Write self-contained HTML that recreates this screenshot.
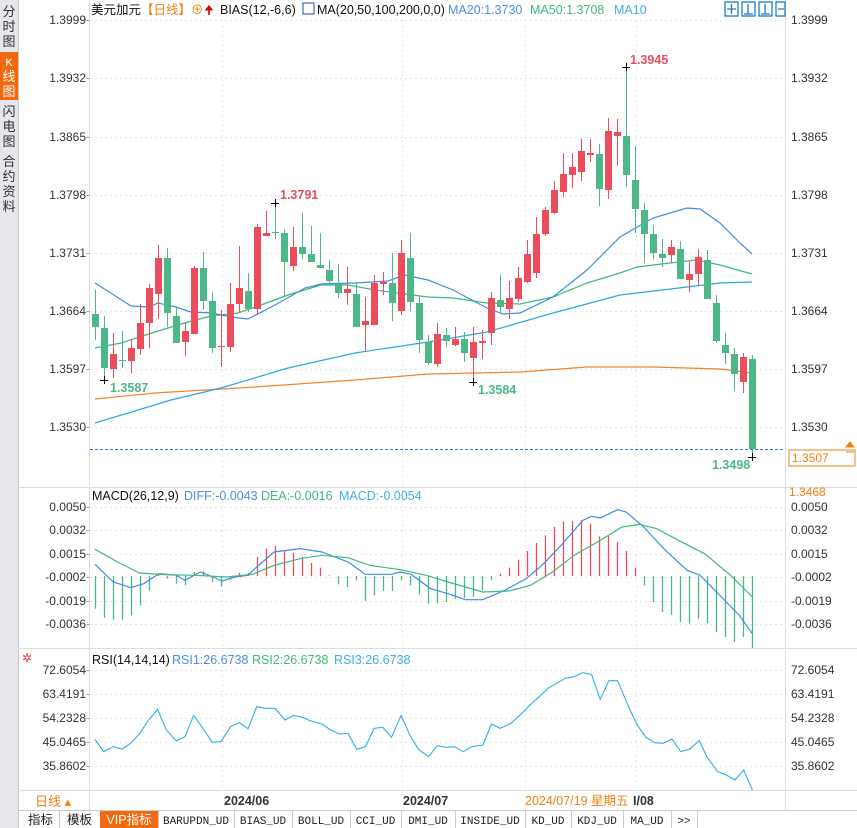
<!DOCTYPE html>
<html><head><meta charset="utf-8">
<style>
body{margin:0;width:857px;height:828px;overflow:hidden;background:#fff;font-family:"Liberation Sans","Noto Sans CJK SC",sans-serif;}
svg{position:absolute;left:0;top:0}
</style></head><body>
<svg id="s" width="857" height="828" xmlns="http://www.w3.org/2000/svg" font-family="Liberation Sans, Noto Sans CJK SC, sans-serif">
<rect x="0" y="0" width="18" height="828" fill="#e6e6ec"/>
<line x1="18.5" y1="0" x2="18.5" y2="828" stroke="#c8c8d0"/>
<rect x="0" y="52" width="18" height="48" fill="#f26a10"/>
<g font-size="13" fill="#333" text-anchor="middle">
<text x="9" y="16">分</text><text x="9" y="31">时</text><text x="9" y="46">图</text>
<text x="9" y="66" fill="#fff" font-size="11">K</text><text x="9" y="81" fill="#fff">线</text><text x="9" y="96" fill="#fff">图</text>
<text x="9" y="116">闪</text><text x="9" y="131">电</text><text x="9" y="146">图</text>
<text x="9" y="166">合</text><text x="9" y="181">约</text><text x="9" y="196">资</text><text x="9" y="211">料</text>
</g>
<g id="grid"></g>
<g id="plot"></g>
<line x1="89.5" y1="0" x2="89.5" y2="810" stroke="#ddd"/>
<line x1="785.5" y1="0" x2="785.5" y2="810" stroke="#ddd"/>
<line x1="18" y1="487.5" x2="857" y2="487.5" stroke="#ddd"/>
<line x1="18" y1="648.5" x2="857" y2="648.5" stroke="#ddd"/>
<line x1="18" y1="790.5" x2="857" y2="790.5" stroke="#ddd"/>
<line x1="18" y1="810.5" x2="857" y2="810.5" stroke="#ccc"/>
<g font-size="12.5">
<text x="91" y="14" fill="#111">美元加元<tspan fill="#f08010">【日线】</tspan><tspan fill="#f08010">⊕</tspan></text>
<text x="204" y="14" fill="#d00" font-size="12">🠉</text>
<text x="220" y="14" fill="#111">BIAS(12,-6,6)</text>
<rect x="303" y="3" width="11" height="11" fill="#fff" stroke="#2a4aa0"/>
<text x="317" y="14" fill="#111">MA(20,50,100,200,0,0)</text>
<text x="448" y="14" fill="#4a90e2">MA20:1.3730</text>
<text x="530" y="14" fill="#3dbb7a">MA50:1.3708</text>
<text x="614" y="14" fill="#42aee8">MA10</text>
</g>
<g fill="none" stroke="#1e7cc8" stroke-width="1.3">
<rect x="725" y="2" width="13" height="14"/><rect x="742" y="2" width="13" height="14"/><rect x="759" y="2" width="13" height="14"/><rect x="776" y="2" width="9" height="14"/>
<path d="M731.5 4v10M727 9h9M748 4v10M744 14h9M765 4v10M761 14h9M778 9h6"/>
</g>
<g font-size="12" fill="#333" id="axes"></g>
<rect x="789" y="450" width="66" height="16" fill="#fff" stroke="#f08010"/>
<text x="792" y="462" font-size="12" fill="#f08010">1.3507</text>
<text x="789" y="496" font-size="12" fill="#f08010">1.3468</text>
<path d="M846 447l4-5 4 5zM846 452h8" fill="#f08010" stroke="#f08010"/>
<g font-size="12.5">
<text x="92" y="500" fill="#111">MACD(26,12,9)</text>
<text x="184" y="500" fill="#4a90e2">DIFF:-0.0043</text>
<text x="261" y="500" fill="#3dbb7a">DEA:-0.0016</text>
<text x="339" y="500" fill="#42aee8">MACD:-0.0054</text>
<text x="92" y="664" fill="#111">RSI(14,14,14)</text>
<text x="172" y="664" fill="#4a90e2">RSI1:26.6738</text>
<text x="252" y="664" fill="#3dbb7a">RSI2:26.6738</text>
<text x="334" y="664" fill="#42aee8">RSI3:26.6738</text>
</g>
<text x="22" y="662" font-size="12" fill="#e33">✲</text>
<g font-size="12.5" font-weight="bold" fill="#333">
<text x="224" y="805">2024/06</text><text x="403" y="805">2024/07</text><text x="633" y="805">I/08</text>
</g>
<text x="525" y="805" font-size="12.5" fill="#f08010">2024/07/19 星期五</text>
<text x="35" y="806" font-size="13" fill="#f08010">日线 ▴</text>
<g id="tabs" font-size="11.5" font-family="Liberation Mono, Noto Sans CJK SC, monospace"></g>
</svg>
<script>
var NS="http://www.w3.org/2000/svg";
function el(p,t,a,txt){var e=document.createElementNS(NS,t);for(var k in a)e.setAttribute(k,a[k]);if(txt!=null)e.textContent=txt;document.getElementById(p).appendChild(e);return e;}
// grid
var hl=[20,78,137,195,253,311,369,427,507,530,554,577,601,624,670,694,718,742,766];
hl.forEach(function(y){el("grid","line",{x1:90,x2:785,y1:y+.5,y2:y+.5,stroke:"#e4e4e4","stroke-dasharray":"2,3"});});
[222,402,525,636].forEach(function(x){el("grid","line",{x1:x+.5,x2:x+.5,y1:20,y2:790,stroke:"#e8e8e8","stroke-dasharray":"2,3"});});
var L=[["1.3999",20],["1.3932",78],["1.3865",137],["1.3798",195],["1.3731",253],["1.3664",311],["1.3597",369],["1.3530",427],
["0.0050",507],["0.0032",530],["0.0015",554],["-0.0002",577],["-0.0019",601],["-0.0036",624],
["72.6054",670],["63.4191",694],["54.2328",718],["45.0465",742],["35.8602",766]];
L.forEach(function(l){el("axes","text",{x:86,y:l[1]+4,"text-anchor":"end"},l[0]);el("axes","text",{x:791,y:l[1]+4},l[0]);
el("axes","line",{x1:86.5,x2:89,y1:l[1]+.5,y2:l[1]+.5,stroke:"#999"});});
// candles [bodyTop,bodyBot,high,low,up]
var C=[[314,327,290,340,0],[328,368,316,380,0],[354,369,333,378,1],[360,361,331,368,0],[348,361,340,373,1],[323,349,304,355,1],[288,323,284,348,1],[258,294,245,319,1],[258,313,248,327,0],[316,343,307,343,0],
[331,342,323,356,1],[268,334,266,334,1],[268,301,252,310,0],[301,348,292,353,0],[346,347,310,367,1],[304,347,283,352,1],[288,304,246,312,1],[291,309,273,312,0],[227,309,224,315,1],[233,236,211,236,1],
[232,233,202,239,0],[233,262,229,296,0],[247,266,227,271,1],[247,254,213,259,0],[254,262,226,262,0],[265,268,233,268,0],[270,281,260,284,0],[284,293,264,298,0],[289,293,267,305,1],[294,327,283,327,0],
[321,325,297,352,1],[283,325,275,325,1],[282,284,272,295,1],[283,303,253,321,0],[253,311,240,315,1],[258,302,233,311,0],[303,340,295,353,0],[342,363,335,365,0],[334,364,323,367,1],[335,341,328,347,0],
[339,345,327,346,1],[339,353,332,362,0],[342,358,327,380,1],[341,343,330,359,1],[298,333,292,345,1],[300,307,275,313,0],[298,309,281,319,1],[278,299,267,302,1],[254,282,240,283,1],[234,273,217,278,1],
[210,234,207,236,1],[190,213,181,214,1],[174,192,153,197,1],[167,175,153,188,1],[151,172,139,181,1],[153,155,139,162,1],[154,189,144,206,0],[131,190,118,199,1],[132,136,119,166,1],[136,175,67,187,0],
[180,209,146,233,0],[210,234,203,263,0],[234,253,225,259,0],[254,258,239,267,0],[247,255,240,263,1],[249,279,241,279,0],[274,280,261,292,1],[257,274,249,286,1],[260,299,250,299,0],[303,341,295,343,0],
[345,353,333,364,0],[354,374,348,391,0],[357,382,353,393,1],[359,449,355,457,0]];
var R="#eb4d5c",G="#4db887";
function X(i){return 95+9*i;}
function poly(pts,col,w,dash){el("plot","polyline",{points:pts.map(function(p){return p[0]+","+p[1];}).join(" "),fill:"none",stroke:col,"stroke-width":w||1,"stroke-dasharray":dash||""});}
// MA lines
poly([[95,399],[155,393],[255,387],[355,380],[428,374],[520,372],[587,367],[653,367],[720,369],[752,373]],"#f5832a",1.2);
poly([[95,423],[171,400],[221,388],[288,368],[355,353],[428,342],[487,332],[553,313],[620,295],[687,287],[720,283],[752,282]],"#2aa8e0",1.2);
poly([[95,348],[121,343],[155,332],[188,322],[211,316],[238,313],[261,305],[288,295],[321,285],[348,285],[375,290],[405,294],[428,297],[453,298],[487,303],[520,304],[553,297],[587,283],[620,273],[637,267],[670,263],[697,260],[720,265],[752,274]],"#3dbb7a",1.2);
poly([[95,283],[131,306],[149,307],[158,303],[176,307],[191,312],[212,313],[231,317],[248,319],[275,305],[305,288],[321,284],[355,283],[388,281],[405,275],[428,280],[453,290],[487,308],[503,314],[520,313],[553,297],[587,270],[620,237],[653,218],[687,208],[700,209],[720,223],[740,243],[752,254]],"#3a8ee6",1.2);
C.forEach(function(c,i){var x=X(i),col=c[4]?R:G;
el("plot","line",{x1:x+.5,x2:x+.5,y1:c[2],y2:c[3],stroke:col});
el("plot","rect",{x:x-3,y:c[0],width:7,height:Math.max(1,c[1]-c[0]),fill:col});});
el("plot","line",{x1:90,x2:785,y1:449.5,y2:449.5,stroke:"#3a70d0","stroke-dasharray":"3,2"});
function cross(x,y){el("plot","path",{d:"M"+(x-4)+" "+(y+.5)+"h8M"+(x+.5)+" "+(y-4)+"v8",stroke:"#000"});}
cross(104,380);cross(275,203);cross(473,382);cross(626,67);cross(752,457);
[["1.3791",280,199,R],["1.3945",630,64,R],["1.3587",110,392,G],["1.3584",478,394,G],["1.3498",712,469,G]].forEach(function(t){
el("plot","text",{x:t[1],y:t[2],fill:t[3],"font-size":"12.5","font-weight":"bold"},t[0]);});
// MACD
var M=[365,392,398,398,385,355,310,262,275,290,295,255,253,285,298,278,258,258,210,185,177,193,198,210,228,242,265,292,300,280,342,325,312,312,280,295,322,350,348,345,335,333,330,310,280,260,242,218,192,168,145,120,103,103,100,110,148,147,165,192,242,295,345,375,383,405,410,395,408,435,450,465,450,485];
var Z=576;
M.forEach(function(v,i){var y=487+v/3,x=X(i)+.5;el("plot","line",{x1:x,x2:x,y1:Z,y2:y,stroke:y<Z?R:G,"stroke-width":1.3});});
function mz(a,yo){return a.map(function(p){return [95+(p[0]-18)/20.7*9,yo+p[1]/3];});}
poly(mz([[18,232],[60,285],[100,302],[130,290],[165,260],[205,265],[225,280],[260,255],[290,270],[310,282],[340,270],[370,265],[390,240],[430,195],[490,185],[540,195],[570,210],[600,225],[640,262],[700,262],[720,255],[745,262],[790,305],[830,320],[870,338],[910,338],[960,310],[1010,275],[1050,230],[1090,175],[1140,100],[1160,88],[1180,93],[1220,68],[1240,75],[1280,120],[1330,190],[1380,250],[1410,265],[1440,305],[1470,345],[1500,385],[1530,440]],487),"#3a8ee6",1.2);
poly(mz([[18,187],[70,225],[120,258],[180,263],[250,265],[320,270],[380,262],[430,235],[490,215],[540,205],[600,212],[650,235],[720,248],[780,265],[830,285],[870,300],[910,315],[970,312],[1020,295],[1070,255],[1120,205],[1180,160],[1230,120],[1270,112],[1310,125],[1360,160],[1420,200],[1480,265],[1530,330]],487),"#3dbb7a",1.2);
// RSI
poly(mz([[18,268],[38,305],[60,290],[80,297],[100,280],[120,252],[140,212],[162,178],[182,240],[205,273],[225,260],[245,196],[265,233],[288,277],[308,274],[330,230],[350,218],[370,236],[390,170],[410,175],[432,175],[455,210],[475,196],[495,202],[515,213],[540,222],[560,240],[580,252],[600,250],[620,298],[640,290],[660,235],[680,232],[700,262],[722,196],[742,255],[762,298],[785,320],[805,287],[825,292],[845,290],[865,305],[885,290],[910,285],[930,222],[950,235],[975,220],[1000,190],[1020,163],[1040,140],[1060,115],[1080,100],[1100,85],[1120,80],[1140,68],[1160,73],[1180,148],[1200,92],[1220,92],[1245,170],[1265,225],[1285,262],[1305,278],[1325,280],[1345,267],[1365,305],[1385,298],[1408,272],[1425,320],[1450,365],[1470,375],[1490,390],[1510,360],[1530,420]],650),"#2fb0e8",1.1);
// tabs
var T=[["指标",22,59],["模板",59,100],["VIP指标",100,158],["BARUPDN_UD",158,234],["BIAS_UD",234,292],["BOLL_UD",292,350],["CCI_UD",350,401],["DMI_UD",401,455],["INSIDE_UD",455,525],["KD_UD",525,571],["KDJ_UD",571,623],["MA_UD",623,671],[">>",671,697]];
T.forEach(function(t,i){if(i==2)el("tabs","rect",{x:t[1],y:811,width:t[2]-t[1],height:17,fill:"#f26a10"});
el("tabs","line",{x1:t[2]+.5,x2:t[2]+.5,y1:811,y2:828,stroke:"#ccc"});
el("tabs","text",{x:(t[1]+t[2])/2,y:824,"text-anchor":"middle",fill:i==2?"#fff":"#222","font-family":i<3?"Liberation Sans, Noto Sans CJK SC, sans-serif":"Liberation Mono, monospace","font-size":i<3?"12.5":"11"},t[0]);});
</script>
</body></html>
